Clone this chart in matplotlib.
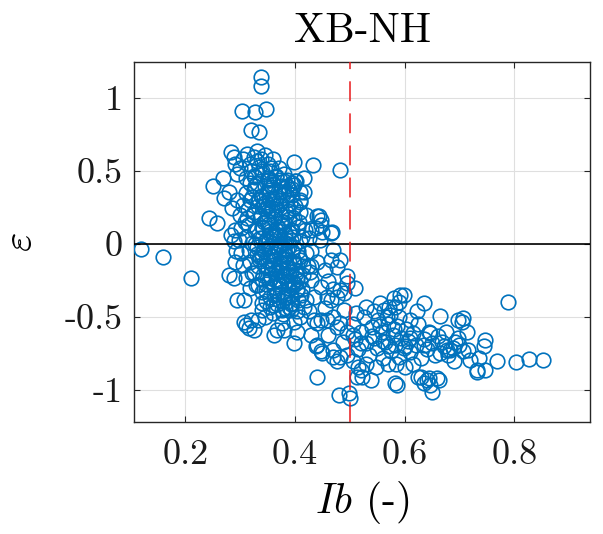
import matplotlib
matplotlib.use("Agg")
import matplotlib.pyplot as plt
import numpy as np

plt.rcParams['font.family'] = ['cmr10', 'DejaVu Serif']
plt.rcParams['mathtext.fontset'] = 'cm'
plt.rcParams['axes.unicode_minus'] = False
plt.rcParams['axes.formatter.use_mathtext'] = True

# ---- data ----
# sparse outliers
ib_out = [0.119, 0.159, 0.21, 0.25, 0.244, 0.258, 0.338, 0.338, 0.304, 0.327, 0.347, 0.319, 0.335,
          0.483, 0.398, 0.433, 0.283, 0.289, 0.268, 0.271, 0.28, 0.283]
eps_out = [-0.03, -0.085, -0.233, 0.40, 0.178, 0.144, 1.144, 1.08, 0.915, 0.904, 0.927, 0.783, 0.771,
           0.51, 0.566, 0.54, 0.634, 0.60, 0.452, 0.315, 0.36, 0.064]

# upper part of the main cluster
ib_up = [0.29, 0.295, 0.30, 0.305, 0.31, 0.312, 0.318, 0.32, 0.325, 0.328, 0.33, 0.335, 0.338, 0.34,
         0.345, 0.35, 0.352, 0.355, 0.36, 0.365, 0.37, 0.375, 0.38, 0.385, 0.39, 0.395, 0.40, 0.41,
         0.41, 0.416, 0.398]
eps_up = [0.55, 0.48, 0.52, 0.58, 0.45, 0.62, 0.55, 0.50, 0.60, 0.46, 0.64, 0.53, 0.58, 0.48,
          0.61, 0.55, 0.44, 0.50, 0.58, 0.46, 0.52, 0.40, 0.48, 0.44, 0.38, 0.42, 0.43, 0.36,
          0.30, 0.45, 0.406]

# dense core
ib_core = [0.31, 0.325, 0.34, 0.355, 0.365, 0.38, 0.395, 0.345, 0.33, 0.36,
           0.305, 0.318, 0.332, 0.347, 0.358, 0.372, 0.386, 0.40, 0.41, 0.352,
           0.30, 0.312, 0.326, 0.338, 0.35, 0.362, 0.375, 0.388, 0.398, 0.42, 0.343,
           0.302, 0.315, 0.328, 0.34, 0.353, 0.366, 0.378, 0.39, 0.405, 0.418, 0.36,
           0.298, 0.31, 0.322, 0.336, 0.348, 0.36, 0.372, 0.384, 0.396, 0.41, 0.425, 0.355,
           0.302, 0.316, 0.33, 0.344, 0.357, 0.37, 0.382, 0.395, 0.407, 0.42, 0.365, 0.389,
           0.305, 0.318, 0.333, 0.347, 0.36, 0.373, 0.386, 0.398, 0.41, 0.424, 0.38,
           0.31, 0.325, 0.34, 0.354, 0.368, 0.38, 0.392, 0.404, 0.415, 0.428, 0.375,
           0.318, 0.333, 0.348, 0.362, 0.376, 0.388, 0.40, 0.413, 0.385, 0.37,
           0.34, 0.355, 0.368, 0.382, 0.395, 0.404, 0.378, 0.36,
           0.335, 0.35, 0.365, 0.38, 0.37, 0.355, 0.345, 0.33, 0.36, 0.375, 0.39, 0.365,
           0.35, 0.34, 0.385, 0.395, 0.37, 0.38, 0.392, 0.345, 0.36, 0.372, 0.385, 0.35,
           0.325, 0.34, 0.356, 0.33, 0.318, 0.322, 0.315, 0.308, 0.372, 0.384, 0.396,
           0.402, 0.393, 0.378, 0.362, 0.353]
eps_core = [0.35, 0.38, 0.33, 0.37, 0.32, 0.36, 0.34, 0.40, 0.42, 0.41,
            0.27, 0.30, 0.26, 0.29, 0.25, 0.28, 0.30, 0.26, 0.22, 0.31,
            0.20, 0.18, 0.22, 0.19, 0.21, 0.17, 0.20, 0.23, 0.18, 0.20, 0.15,
            0.11, 0.13, 0.09, 0.12, 0.14, 0.10, 0.13, 0.08, 0.12, 0.10, 0.06,
            0.03, 0.05, 0.01, 0.04, 0.02, 0.05, 0.00, 0.03, 0.05, 0.02, 0.04, -0.01,
            -0.06, -0.04, -0.07, -0.05, -0.08, -0.04, -0.07, -0.05, -0.09, -0.06, -0.02, -0.01,
            -0.14, -0.12, -0.15, -0.11, -0.14, -0.12, -0.16, -0.13, -0.11, -0.15, -0.10,
            -0.23, -0.20, -0.24, -0.21, -0.25, -0.22, -0.19, -0.24, -0.21, -0.19, -0.18,
            -0.30, -0.28, -0.32, -0.29, -0.33, -0.30, -0.27, -0.31, -0.36, -0.38,
            -0.40, -0.43, -0.41, -0.44, -0.40, -0.46, -0.48, -0.47,
            0.30, 0.27, 0.24, 0.15, 0.09, 0.07, 0.00, -0.02, -0.11, -0.15, -0.21, -0.19,
            -0.16, -0.09, -0.25, -0.29, -0.27, -0.04, 0.10, 0.24, 0.31, 0.36, 0.40, 0.44,
            0.47, 0.50, 0.52, 0.57, 0.42, 0.32, 0.24, 0.15, 0.05, -0.08, -0.12,
            -0.20, -0.35, -0.39, -0.35, -0.25]

# extra points filling the saturated centre of the core
ib_dense = [0.338, 0.352, 0.366, 0.379, 0.391, 0.343, 0.357, 0.371, 0.384, 0.397,
            0.336, 0.349, 0.363, 0.377, 0.389, 0.341, 0.355, 0.369, 0.382, 0.394,
            0.339, 0.353, 0.367, 0.38, 0.392, 0.344, 0.358, 0.372, 0.386, 0.399,
            0.337, 0.351, 0.364, 0.378, 0.39, 0.346, 0.359, 0.373, 0.387, 0.401,
            0.342, 0.356, 0.37, 0.383, 0.396, 0.348, 0.361, 0.374, 0.388, 0.403,
            0.34, 0.354, 0.368, 0.381, 0.393, 0.347, 0.36, 0.376, 0.39, 0.406,
            0.328, 0.332, 0.324, 0.33, 0.327, 0.334, 0.321, 0.329, 0.408, 0.412,
            0.406, 0.414, 0.409, 0.411, 0.35, 0.365, 0.38, 0.395, 0.358, 0.372]
eps_dense = [0.33, 0.35, 0.31, 0.34, 0.28, 0.26, 0.23, 0.27, 0.22, 0.25,
             0.18, 0.16, 0.19, 0.15, 0.17, 0.11, 0.09, 0.12, 0.07, 0.10,
             0.04, 0.02, 0.06, 0.01, 0.03, -0.03, -0.05, -0.01, -0.04, -0.02,
             -0.09, -0.11, -0.07, -0.10, -0.12, -0.15, -0.17, -0.13, -0.16, -0.18,
             -0.21, -0.23, -0.19, -0.22, -0.26, -0.27, -0.29, -0.25, -0.28, -0.31,
             -0.33, -0.36, -0.34, -0.37, -0.41, -0.39, -0.42, -0.45, -0.43, -0.38,
             0.40, 0.30, 0.20, 0.10, 0.00, -0.10, -0.20, -0.28, 0.15, 0.05,
             -0.05, -0.15, -0.25, -0.35, 0.45, 0.47, 0.43, 0.38, 0.39, 0.44]

# lower-left part of the cluster
ib_low = [0.295, 0.307, 0.319, 0.316, 0.325, 0.307, 0.31, 0.332, 0.362, 0.368, 0.377, 0.38, 0.398,
          0.398, 0.404, 0.28, 0.289, 0.29, 0.292, 0.288, 0.29, 0.285, 0.295, 0.345, 0.34, 0.392,
          0.416, 0.404, 0.41, 0.42]
eps_low = [-0.38, -0.38, -0.518, -0.575, -0.587, -0.53, -0.553, -0.518, -0.62, -0.587, -0.541, -0.587, -0.53,
           -0.678, -0.60, -0.21, -0.233, -0.12, -0.05, 0.02, 0.10, 0.25, 0.30, -0.50, -0.45, -0.45,
           -0.427, -0.313, -0.50, -0.38]

# transition zone around the threshold
ib_mid = [0.441, 0.447, 0.438, 0.429, 0.45, 0.468, 0.443, 0.447, 0.416, 0.41, 0.401, 0.465, 0.47,
          0.483, 0.495, 0.483, 0.465, 0.441, 0.459, 0.477, 0.429, 0.447, 0.435, 0.435, 0.447, 0.47,
          0.483, 0.459, 0.477, 0.47, 0.465, 0.477, 0.441, 0.447, 0.47, 0.477, 0.47, 0.441, 0.48,
          0.498, 0.5, 0.438, 0.45, 0.483, 0.495, 0.43, 0.44, 0.455, 0.43, 0.445, 0.46, 0.49, 0.495,
          0.488, 0.46, 0.455, 0.425, 0.43, 0.495, 0.51, 0.489]
eps_mid = [0.19, 0.166, 0.11, 0.098, 0.086, 0.086, 0.19, 0.13, 0.36, 0.29, 0.43, 0.075, -0.039,
           -0.108, -0.22, -0.313, -0.38, -0.541, -0.518, -0.564, -0.245, -0.29, -0.36, -0.518, -0.518, -0.496,
           -0.54, -0.36, -0.36, -0.31, -0.108, -0.153, -0.69, -0.735, -0.77, -0.80, -0.724, -0.907, -1.032,
           -1.02, -1.055, -0.70, -0.747, -0.77, -0.758, -0.05, -0.12, -0.18, -0.15, 0.03, -0.25, -0.45, -0.60,
           -0.67, -0.62, -0.44, -0.46, -0.62, -0.267, -0.30, -0.336]

# right-hand tail
ib_right = [0.789, 0.804, 0.827, 0.853, 0.768, 0.747, 0.744, 0.732, 0.747, 0.735, 0.72, 0.707, 0.713,
            0.698, 0.689, 0.707, 0.698, 0.665, 0.635, 0.647, 0.671, 0.677, 0.665, 0.644, 0.647, 0.65,
            0.662, 0.629, 0.635, 0.583, 0.586, 0.598, 0.589, 0.583, 0.58, 0.592, 0.571, 0.562, 0.574,
            0.716, 0.732, 0.683, 0.635, 0.625, 0.641, 0.659, 0.52, 0.538, 0.513, 0.523, 0.692, 0.704,
            0.505, 0.51, 0.515, 0.52, 0.525, 0.53, 0.535, 0.54, 0.545, 0.55, 0.552, 0.558, 0.56, 0.565,
            0.57, 0.575, 0.578, 0.582, 0.586, 0.59, 0.594, 0.598, 0.602, 0.606, 0.61, 0.615, 0.62, 0.625,
            0.63, 0.635, 0.64, 0.645, 0.65, 0.655, 0.66, 0.668, 0.675, 0.68, 0.69, 0.70, 0.512, 0.53,
            0.545, 0.555, 0.568, 0.59, 0.61, 0.622, 0.505, 0.53, 0.548, 0.57, 0.60, 0.615, 0.54, 0.56,
            0.58, 0.60, 0.57, 0.555, 0.61, 0.585, 0.52, 0.505, 0.515]
eps_right = [-0.393, -0.808, -0.786, -0.793, -0.80, -0.655, -0.70, -0.873, -0.861, -0.78, -0.79, -0.735, -0.60,
             -0.644, -0.712, -0.507, -0.518, -0.49, -0.40, -0.61, -0.70, -0.724, -0.747, -0.918, -0.964, -1.01,
             -0.93, -0.907, -0.952, -0.952, -0.963, -0.347, -0.393, -0.427, -0.37, -0.347, -0.427, -0.45, -0.484,
             -0.724, -0.861, -0.724, -0.69, -0.907, -0.93, -0.918, -0.861, -0.93, -0.907, -0.907, -0.667, -0.53,
             -0.55, -0.65, -0.72, -0.60, -0.50, -0.68, -0.76, -0.57, -0.64, -0.71, -0.52, -0.60, -0.78, -0.67,
             -0.55, -0.73, -0.62, -0.69, -0.56, -0.77, -0.64, -0.71, -0.58, -0.66, -0.74, -0.61, -0.69, -0.55,
             -0.78, -0.65, -0.72, -0.60, -0.68, -0.76, -0.63, -0.67, -0.60, -0.76, -0.80, -0.69, -0.47, -0.43,
             -0.46, -0.40, -0.50, -0.50, -0.52, -0.46, -0.80, -0.82, -0.84, -0.82, -0.84, -0.82, -0.63, -0.66,
             -0.58, -0.70, -0.70, -0.56, -0.64, -0.82, -0.68, -0.62, -0.84]

ib_all = ib_out + ib_up + ib_core + ib_dense + ib_low + ib_mid + ib_right
eps_all = eps_out + eps_up + eps_core + eps_dense + eps_low + eps_mid + eps_right

x_ticks = [0.2, 0.4, 0.6, 0.8]
x_tick_labels = ['0.2', '0.4', '0.6', '0.8']
y_ticks = [-1, -0.5, 0, 0.5, 1]
y_tick_labels = ['-1', '-0.5', '0', '0.5', '1']
threshold = 0.5

fig = plt.figure(figsize=(6.03, 5.34), dpi=100)
ax = fig.add_axes([0.2227, 0.2092, 0.7557, 0.6753])

ax.plot(ib_all, eps_all, 'o', mfc='none', mec='#0072BD', ms=10.5, mew=1.2, zorder=3)
ax.axhline(0, color='black', lw=1.2, zorder=4)
ax.axvline(threshold, color='#E8191B', lw=1.1, dashes=(13, 8), zorder=4)

ax.set_xlim(0.107, 0.938)
ax.set_ylim(-1.22, 1.25)
ax.set_xticks(x_ticks)
ax.set_xticklabels(x_tick_labels)
ax.set_yticks(y_ticks)
ax.set_yticklabels(y_tick_labels)
ax.tick_params(direction='in', length=4, width=0.8, labelsize=26, top=True, right=True,
               color='#262626', labelcolor='#1a1a1a')
ax.tick_params(axis='y', pad=8)
ax.tick_params(axis='x', pad=12)
ax.grid(True, color='#DFDFDF', lw=0.8, zorder=0)
ax.set_axisbelow(True)
for s in ax.spines.values():
    s.set_color('#262626')
    s.set_linewidth(1.0)

ax.set_title('XB-NH', fontsize=30, pad=14, color='black')
ax.set_xlabel(r'$Ib$ (-)', fontsize=30, labelpad=6)
ax.set_ylabel(r'$\varepsilon$', fontsize=30, labelpad=18)

fig.savefig('out.png', dpi=100)
